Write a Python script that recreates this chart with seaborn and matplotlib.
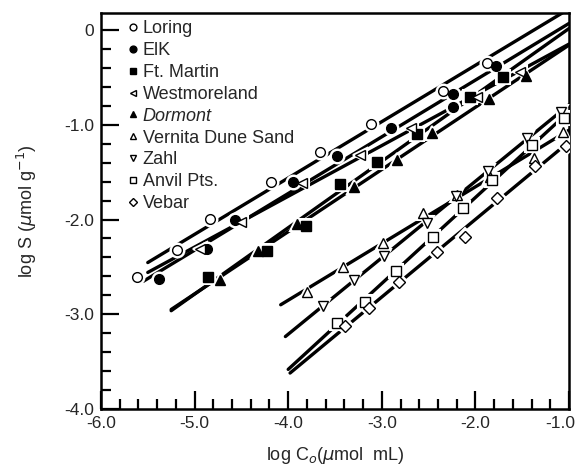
import numpy as np
import pandas as pd
import matplotlib
matplotlib.use("Agg")
import matplotlib.pyplot as plt
import matplotlib.transforms as mtransforms
import seaborn as sns

# soils (log Co, log S)
soils = ["Loring", "ElK", "Ft. Martin", "Westmoreland", "Dormont",
         "Vernita Dune Sand", "Zahl", "Anvil Pts.", "Vebar"]

loring_x = [-5.61, -5.19, -4.83, -4.18, -3.66, -3.12, -2.35, -1.88]
loring_y = [-2.61, -2.32, -1.99, -1.60, -1.29, -0.99, -0.64, -0.35]

elk_x = [-5.38, -4.87, -4.57, -3.95, -3.48, -2.90, -2.24, -2.24, -1.78]
elk_y = [-2.63, -2.31, -2.01, -1.60, -1.33, -1.03, -0.81, -0.68, -0.38]

ftmartin_x = [-4.86, -4.23, -3.81, -3.45, -3.05, -2.62, -2.06, -1.70]
ftmartin_y = [-2.61, -2.33, -2.07, -1.62, -1.39, -1.10, -0.71, -0.50]

westmoreland_x = [-4.94, -4.50, -3.85, -3.23, -2.69, -1.98, -1.52]
westmoreland_y = [-2.31, -2.03, -1.61, -1.32, -1.03, -0.71, -0.44]

dormont_x = [-4.73, -4.32, -3.91, -3.30, -2.84, -2.46, -1.86, -1.46]
dormont_y = [-2.64, -2.33, -2.05, -1.66, -1.37, -1.09, -0.73, -0.48]

vernita_x = [-3.80, -3.41, -2.99, -2.56, -2.20, -1.84, -1.37, -1.06]
vernita_y = [-2.77, -2.50, -2.25, -1.93, -1.74, -1.55, -1.35, -1.08]

zahl_x = [-3.63, -3.30, -2.98, -2.52, -2.21, -1.87, -1.45, -1.09]
zahl_y = [-2.91, -2.64, -2.39, -2.04, -1.75, -1.49, -1.14, -0.87]

anvil_x = [-3.48, -3.18, -2.85, -2.45, -2.13, -1.82, -1.40, -1.05]
anvil_y = [-3.09, -2.87, -2.54, -2.18, -1.88, -1.58, -1.21, -0.93]

vebar_x = [-3.39, -3.14, -2.82, -2.41, -2.11, -1.77, -1.36, -1.03]
vebar_y = [-3.12, -2.93, -2.66, -2.34, -2.18, -1.77, -1.43, -1.22]

# range over which each fitted isotherm is drawn
fit_start = [-5.50, -5.55, -5.25, -5.50, -5.25, -4.08, -4.03, -4.00, -3.98]
fit_end = [-1.0] * 9

xs = [loring_x, elk_x, ftmartin_x, westmoreland_x, dormont_x,
      vernita_x, zahl_x, anvil_x, vebar_x]
ys = [loring_y, elk_y, ftmartin_y, westmoreland_y, dormont_y,
      vernita_y, zahl_y, anvil_y, vebar_y]

markers = ["o", "o", "s", "<", "^", "^", "v", "s", "D"]
filled = [False, True, True, False, True, False, False, False, False]

sns.set_style("ticks")
plt.rcParams["font.family"] = ["Liberation Sans", "DejaVu Sans"]

fig = plt.figure(figsize=(5.82, 4.65), dpi=100)
ax = fig.add_axes([0.1735, 0.1204, 0.8042, 0.8516])

# fitted lines
for i, name in enumerate(soils):
    slope, icpt = np.polyfit(xs[i], ys[i], 1)
    xl = np.array([fit_start[i], fit_end[i]])
    line_df = pd.DataFrame({"x": xl, "y": slope * xl + icpt})
    sns.lineplot(data=line_df, x="x", y="y", color="black", lw=2.4,
                 ax=ax, legend=False)

# markers (white halo first, like the gaps in the original)
for i, name in enumerate(soils):
    ms = 7.0 if markers[i] != "D" else 6.0
    ax.plot(xs[i], ys[i], ls="none", marker=markers[i], ms=ms + 3,
            mfc="white", mec="white", mew=1.5, zorder=3)
    ax.plot(xs[i], ys[i], ls="none", marker=markers[i], ms=ms,
            mfc="black" if filled[i] else "white", mec="black", mew=1.0,
            zorder=4, label=name)

ax.set_xlim(-6.0, -1.0)
ax.set_ylim(-4.0, 0.18)
ax.set_xticks([-6, -5, -4, -3, -2, -1])
ax.set_xticklabels(["-6.0", "-5.0", "-4.0", "-3.0", "-2.0", "-1.0"])
ax.set_yticks([0, -1, -2, -3, -4])
ax.set_yticklabels(["0", "-1.0", "-2.0", "-3.0", "-4.0"])
ax.set_xticks(np.arange(-6.0, -0.99, 0.2), minor=True)
ax.set_yticks(np.arange(-4.0, 0.01, 0.2), minor=True)
ax.tick_params(which="major", direction="in", length=13, width=1.6,
               labelsize=12.5, pad=5, color="black")
ax.tick_params(which="minor", direction="in", length=7, width=1.6,
               color="black")
for s in ax.spines.values():
    s.set_linewidth(1.8)
    s.set_color("black")

# last x label sits a little left of its tick so it stays on the page
last = ax.get_xticklabels()[-1]
last.set_transform(last.get_transform() +
                   mtransforms.ScaledTranslation(-9 / 100, 0, fig.dpi_scale_trans))

ax.set_xlabel(r"log C$_o$($\mu$mol  mL)", fontsize=13, labelpad=10)
ax.set_ylabel(r"log S ($\mu$mol g$^{-1}$)", fontsize=13, labelpad=18)

leg = ax.legend(loc="upper left", frameon=False, fontsize=13,
                handletextpad=0.1, borderaxespad=0.0, labelspacing=0.27,
                handlelength=0.9, markerscale=0.7,
                bbox_to_anchor=(0.035, 1.0))
leg.get_texts()[4].set_style("italic")

fig.savefig("out.png", dpi=100)
